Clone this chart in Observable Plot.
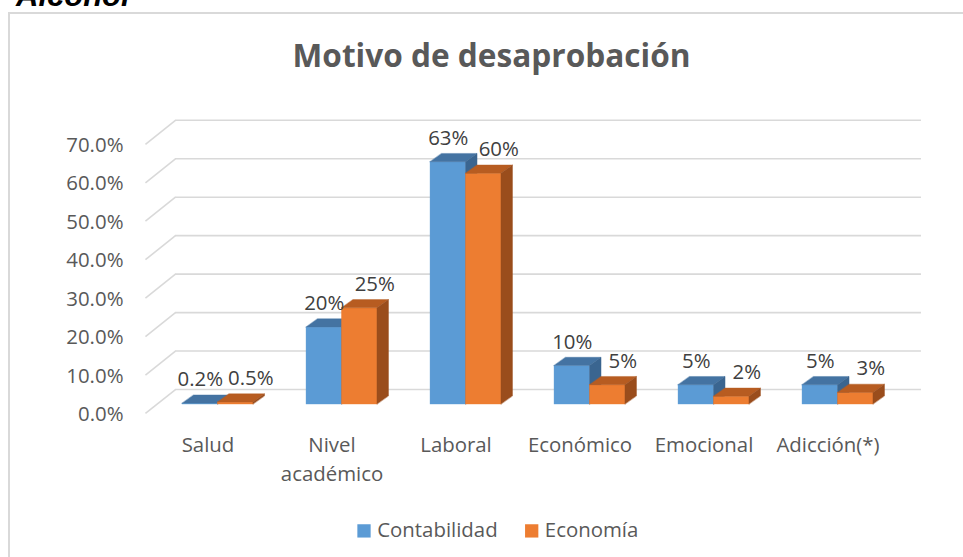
<!DOCTYPE html>
<html>
<head>
<meta charset="utf-8">
<script src="https://cdn.jsdelivr.net/npm/d3@7"></script>
<script src="https://cdn.jsdelivr.net/npm/@observablehq/plot@0.6"></script>
<style>
  html, body { margin: 0; padding: 0; background: #fff; }
  #wrap { position: relative; width: 963px; height: 557px; overflow: hidden; background: #fff; }
  #chart { position: absolute; left: 0; top: 0; }
  #frame { position: absolute; left: 8px; top: 12px; width: 1000px; height: 600px;
           border: 2.5px solid #d9d9d9; box-sizing: border-box; pointer-events: none; }
  #alc { position: absolute; left: 16px; top: -19px; font: italic bold 31px "Liberation Sans", Arial, sans-serif;
         line-height: 30px; color: #000; white-space: nowrap; }
</style>
</head>
<body>
<div id="wrap">
  <div id="chart"></div>
  <div id="frame"></div>
  <div id="alc">Alcohol</div>
</div>
<script>
// ---- data ----
const title = "Motivo de desaprobación";
const categories = ["Salud", "Nivel académico", "Laboral", "Económico", "Emocional", "Adicción(*)"];
const series = ["Contabilidad", "Economía"];
const contabilidad = [0.2, 20, 63, 10, 5, 5];
const economia = [0.5, 25, 60, 5, 2, 3];
const yTicks = [0, 10, 20, 30, 40, 50, 60, 70];

const valueLabel = v => (v < 1 ? v.toFixed(1) : String(v)) + "%";
const tickLabel = v => v.toFixed(1) + "%";

// ---- styles ----
const FONT = "'Open Sans', 'DejaVu Sans', sans-serif";
const FS = 20.4;
const colors = {
  front: ["#5b9bd5", "#ed7d31"],
  top:   ["#4473a2", "#b75c21"],
  side:  ["#3a6590", "#9a4d1c"]
};
const GRID = "#d9d9d9";
// 3D projection constants (in scale units)
const BAR_W = 0.286, DX = 0.093, DY = 2.16;
const BACK_X1 = -0.343, BACK_X2 = 5.673, BACK_DY = 3.9;
const FRONT_X = -0.585, FRONT_DY = -2.34;

const bars = [];
categories.forEach((c, i) => {
  [contabilidad, economia].forEach((vals, s) => {
    const xa = i - BAR_W + s * BAR_W;
    bars.push({cat: c, i, s, series: series[s], value: vals[i], xa, xb: xa + BAR_W});
  });
});

const marks = [];
// back wall gridlines
marks.push(Plot.ruleY(yTicks, {x1: () => BACK_X1, x2: () => BACK_X2, y: d => d + BACK_DY,
  stroke: GRID, strokeWidth: 1.6}));
// left wall diagonals
marks.push(Plot.link(yTicks, {x1: () => FRONT_X, y1: d => d + FRONT_DY, x2: () => BACK_X1, y2: d => d + BACK_DY,
  stroke: GRID, strokeWidth: 1.6}));
// y tick labels
marks.push(Plot.text(yTicks, {y: d => d, frameAnchor: "left", text: tickLabel, textAnchor: "end",
  dx: -32.5, dy: 10, fill: "#595959", fontSize: FS, fontFamily: FONT}));

// bars (front, top, side) per series
[0, 1].forEach(s => {
  const B = bars.filter(b => b.s === s);
  marks.push(Plot.rect(B, {x1: "xa", x2: "xb", y1: () => 0, y2: "value",
    fill: colors.front[s], stroke: colors.front[s], strokeWidth: 0.4}));
  const topPts = B.flatMap(b => [
    {id: b.i, x1: b.xa, y1: b.value, x2: b.xa + DX, y2: b.value + DY},
    {id: b.i, x1: b.xb, y1: b.value, x2: b.xb + DX, y2: b.value + DY}
  ]);
  marks.push(Plot.area(topPts, {x1: "x1", y1: "y1", x2: "x2", y2: "y2", z: "id",
    fill: colors.top[s], stroke: colors.top[s], strokeWidth: 0.4}));
  const sidePts = B.flatMap(b => [
    {id: b.i, x1: b.xb, y1: 0, x2: b.xb + DX, y2: DY},
    {id: b.i, x1: b.xb, y1: b.value, x2: b.xb + DX, y2: b.value + DY}
  ]);
  marks.push(Plot.area(sidePts, {x1: "x1", y1: "y1", x2: "x2", y2: "y2", z: "id",
    fill: colors.side[s], stroke: colors.side[s], strokeWidth: 0.4}));
});

// data labels
[0, 1].forEach(s => {
  const B = bars.filter(b => b.s === s);
  marks.push(Plot.text(B, {x: b => (b.xa + b.xb) / 2, y: "value", text: b => valueLabel(b.value),
    dx: s ? 15 : 0, dy: -24, fill: "#404040", fontSize: FS, fontFamily: FONT}));
});

// category labels
marks.push(Plot.text(categories, {x: (d, i) => i, y: () => 0, text: d => d, lineAnchor: "top",
  lineWidth: 5.5, lineHeight: 1.39, dx: -10, dy: 27.6, fill: "#595959", fontSize: FS, fontFamily: FONT}));

// title
marks.push(Plot.text([title], {frameAnchor: "top", text: d => d, dx: -36.5, dy: -68.8, lineAnchor: "bottom",
  fontSize: 31.6, fontWeight: "bold", fill: "#595959", fontFamily: FONT}));

// legend
const legendSq = [208, 375.7], legendTx = [221.2, 388.8];
series.forEach((name, s) => {
  marks.push(Plot.dot([name], {frameAnchor: "bottom-left", symbol: "square", r: 7.5, fill: colors.front[s],
    stroke: "none", dx: legendSq[s], dy: 126.4}));
  marks.push(Plot.text([name], {frameAnchor: "bottom-left", text: d => d, textAnchor: "start", lineAnchor: "bottom",
    dx: legendTx[s], dy: 132.7, fill: "#595959", fontSize: FS, fontFamily: FONT}));
});

const plot = Plot.plot({
  width: 963, height: 557,
  marginLeft: 155.5, marginRight: 63.5, marginTop: 134.8, marginBottom: 153,
  x: {type: "linear", domain: [-0.5, 5.5], axis: null},
  y: {type: "linear", domain: [0, 70], axis: null},
  style: {background: "transparent", overflow: "visible"},
  marks
});
document.getElementById("chart").appendChild(plot);
</script>
</body>
</html>
